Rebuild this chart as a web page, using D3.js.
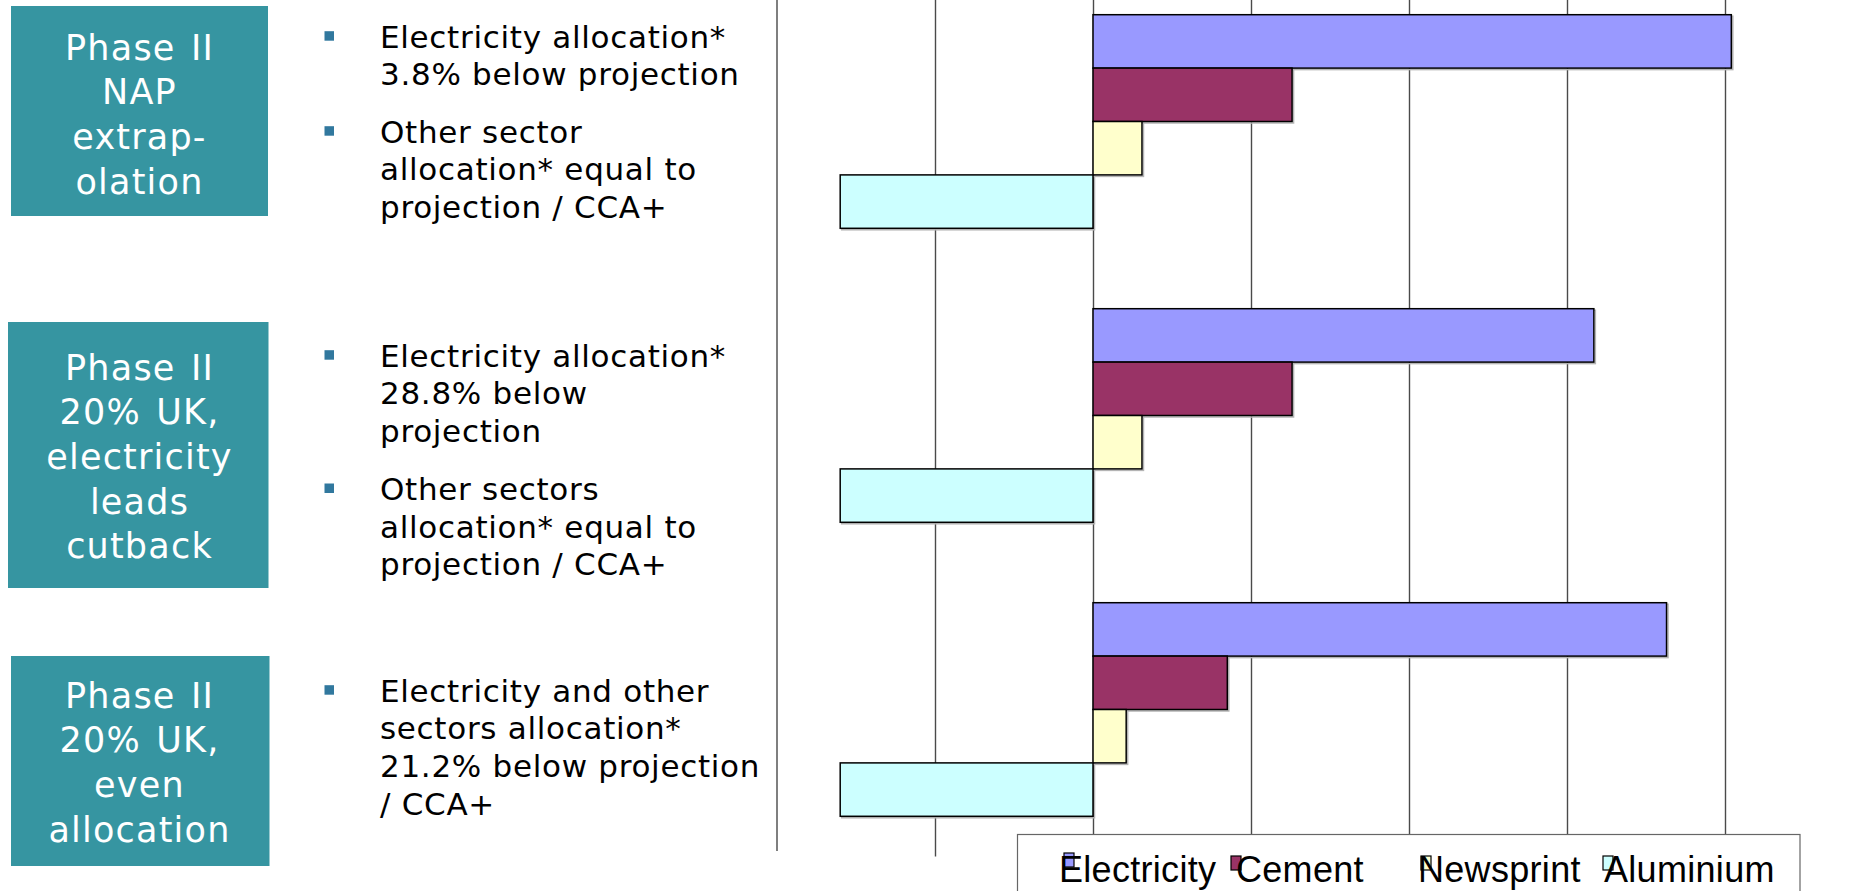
<!DOCTYPE html>
<html>
<head>
<meta charset="utf-8">
<script src="https://cdn.jsdelivr.net/npm/d3@7"></script>
<style>
  html, body { margin: 0; padding: 0; background: #ffffff; }
  svg { display: block; }
</style>
</head>
<body>
<svg id="chart" width="1871" height="891"></svg>
<script>
// Scenarios (one row of bars each), series and value-axis gridlines
const categories = ["NAP extrapolation", "20% UK, electricity leads cutback", "20% UK, even allocation"];
const seriesNames = ["Electricity", "Cement", "Newsprint", "Aluminium"];
const seriesColors = ["#9999FF", "#993366", "#FFFFCC", "#CCFFFF"];
const electricity = [40.4, 31.7, 36.3];
const cement = [12.6, 12.6, 8.5];
const newsprint = [3.1, 3.1, 2.1];
const aluminium = [-16.0, -16.0, -16.0];
const gridTicks = [-10, 0, 10, 20, 30, 40];

// Scenario label boxes and their bullet notes
const boxLines = [
  ["Phase II", "NAP", "extrap-", "olation"],
  ["Phase II", "20% UK,", "electricity", "leads", "cutback"],
  ["Phase II", "20% UK,", "even", "allocation"]
];
const notes = [
  [["Electricity allocation*", "3.8% below projection"],
   ["Other sector", "allocation* equal to", "projection / CCA+"]],
  [["Electricity allocation*", "28.8% below", "projection"],
   ["Other sectors", "allocation* equal to", "projection / CCA+"]],
  [["Electricity and other", "sectors allocation*", "21.2% below projection", "/ CCA+"]]
];

const svg = d3.select("#chart");

// ---------- left-hand panel ----------
const boxGeom = [
  {x: 11, y: 6, w: 257, h: 210, first: 59.5},
  {x: 8, y: 322, w: 260.5, h: 266, first: 379.5},
  {x: 11, y: 656, w: 258.5, h: 210, first: 707.5}
];
const boxLineStep = 44.7;
const panel = svg.append("g");
boxGeom.forEach((b, i) => {
  panel.append("rect")
    .attr("x", b.x).attr("y", b.y).attr("width", b.w).attr("height", b.h)
    .attr("fill", "#3695A1");
  panel.append("g").selectAll("text").data(boxLines[i]).join("text")
    .attr("x", 139.5)
    .attr("y", (d, j) => b.first + j * boxLineStep)
    .attr("text-anchor", "middle")
    .attr("fill", "#ffffff")
    .style("font-family", "'DejaVu Sans', Verdana, sans-serif")
    .style("font-size", "35px")
    .style("letter-spacing", "1.2px")
    .style("word-spacing", "3px")
    .text(d => d);
});

// bullet paragraphs: first baseline of each paragraph
const noteStarts = [[47.7, 142.7], [366.7, 500], [701.7]];
const noteStep = 37.6;
notes.forEach((group, i) => {
  group.forEach((para, k) => {
    const y0 = noteStarts[i][k];
    panel.append("rect")
      .attr("x", 324.5).attr("y", y0 - 16.5).attr("width", 9.5).attr("height", 9.5)
      .attr("fill", "#31789E");
    panel.append("g").selectAll("text").data(para).join("text")
      .attr("x", 380)
      .attr("y", (d, j) => y0 + j * noteStep)
      .attr("fill", "#000000")
      .style("font-family", "'DejaVu Sans', Verdana, sans-serif")
      .style("font-size", "31px")
      .style("letter-spacing", "0.7px")
      .text(d => d);
  });
});

// ---------- bar chart ----------
const plot = {left: 777, right: 1804, top: -25.5, bottom: 856.5};
const x = d3.scaleLinear().domain([-20, 45]).range([plot.left, plot.right]);
const y = d3.scaleBand().domain(categories).range([plot.top, plot.bottom])
  .paddingInner(0.2735).paddingOuter(0.2735 / 2);
const ySub = d3.scaleBand().domain(seriesNames).range([0, y.bandwidth()]);

// separator / left edge of the plot
svg.append("line")
  .attr("x1", x(-20)).attr("x2", x(-20))
  .attr("y1", 0).attr("y2", 851)
  .attr("stroke", "#555555").attr("stroke-width", 1.5);

// vertical gridlines
const grid = svg.append("g")
  .attr("transform", `translate(0,${plot.bottom})`)
  .call(d3.axisBottom(x).tickValues(gridTicks).tickSize(-(plot.bottom - plot.top)).tickFormat(""));
grid.select(".domain").remove();
grid.selectAll(".tick line").attr("stroke", "#4a4a4a").attr("stroke-width", 1.4);

const valuesBySeries = [electricity, cement, newsprint, aluminium];
const rows = categories.map((c, i) => ({
  cat: c,
  bars: seriesNames.map((s, k) => ({series: s, value: valuesBySeries[k][i], color: seriesColors[k]}))
}));

const rowG = svg.append("g").selectAll("g").data(rows).join("g")
  .attr("transform", d => `translate(0,${y(d.cat)})`);

// soft shadow under each bar
rowG.selectAll("rect.shadow").data(d => d.bars).join("rect")
  .attr("class", "shadow")
  .attr("x", d => x(Math.min(0, d.value)) + 1.5)
  .attr("y", d => ySub(d.series) + 1.5)
  .attr("width", d => Math.abs(x(d.value) - x(0)))
  .attr("height", ySub.bandwidth())
  .attr("fill", "none")
  .attr("stroke", "#b4b4b4").attr("stroke-width", 1.5);

rowG.selectAll("rect.bar").data(d => d.bars).join("rect")
  .attr("class", "bar")
  .attr("x", d => x(Math.min(0, d.value)))
  .attr("y", d => ySub(d.series))
  .attr("width", d => Math.abs(x(d.value) - x(0)))
  .attr("height", ySub.bandwidth())
  .attr("fill", d => d.color)
  .attr("stroke", "#000000").attr("stroke-width", 1.5);

// ---------- legend ----------
const legend = svg.append("g");
legend.append("rect")
  .attr("x", 1017.5).attr("y", 834.5).attr("width", 782.5).attr("height", 80)
  .attr("fill", "#ffffff").attr("stroke", "#666666").attr("stroke-width", 1.2);
const legendItems = [
  {name: seriesNames[0], color: seriesColors[0], sx: 1064, sy: 853, tx: 1059},
  {name: seriesNames[1], color: seriesColors[1], sx: 1231, sy: 856, tx: 1236},
  {name: seriesNames[2], color: seriesColors[2], sx: 1421, sy: 856, tx: 1418},
  {name: seriesNames[3], color: seriesColors[3], sx: 1603, sy: 856, tx: 1604}
];
const li = legend.selectAll("g.item").data(legendItems).join("g").attr("class", "item");
li.append("rect")
  .attr("x", d => d.sx).attr("y", d => d.sy).attr("width", 10).attr("height", 14)
  .attr("fill", d => d.color).attr("stroke", "#000000").attr("stroke-width", 1.2);
li.append("text")
  .attr("x", d => d.tx).attr("y", 881.5)
  .attr("fill", "#000000")
  .style("font-family", "'Liberation Sans', Arial, sans-serif")
  .style("font-size", "36px")
  .style("letter-spacing", "0.3px")
  .text(d => d.name);
</script>
</body>
</html>
